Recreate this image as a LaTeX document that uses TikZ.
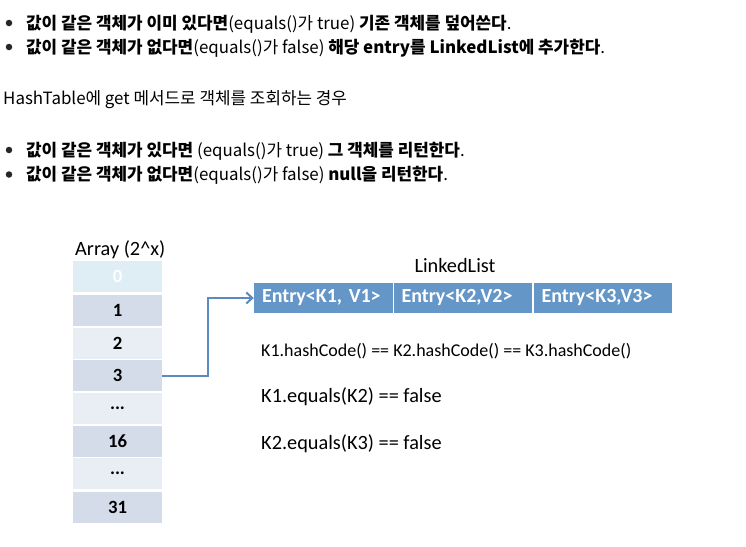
\documentclass[tikz,border=0pt]{standalone}
\usepackage{fontspec}
\setmainfont{Carlito}
\newfontfamily\kr{Noto Sans CJK KR}
\usetikzlibrary{arrows.meta}
\definecolor{headfill}{HTML}{DEEEF4}
\definecolor{darkfill}{HTML}{D5DCE9}
\definecolor{lightfill}{HTML}{E9EDF4}
\definecolor{entryfill}{HTML}{6496C8}
\definecolor{arrowc}{HTML}{5A8AC0}
\tikzset{
  topline/.style={anchor=base west, inner sep=0pt, font=\kr\fontsize{16.9}{19}\selectfont},
  bulletdot/.style={fill=black!85, circle, inner sep=0pt, minimum size=6.5pt},
  cellbox/.style={minimum width=89pt, minimum height=31pt, inner sep=0pt, font=\bfseries\fontsize{18.7}{20}\selectfont},
  cdark/.style={cellbox, fill=darkfill},
  clight/.style={cellbox, fill=lightfill},
  chead/.style={cellbox, fill=headfill, text=white},
  entrybox/.style={fill=entryfill, text=white, minimum height=30pt, inner xsep=8pt, inner ysep=0pt, text width=122.5pt, align=left, font=\bfseries\fontsize{20}{21}\selectfont},
  plain/.style={anchor=base west, inner sep=0pt, font=\fontsize{20.3}{22}\selectfont},
  small/.style={anchor=base west, inner sep=0pt, font=\fontsize{18}{19}\selectfont},
  link/.style={draw=arrowc, line width=2pt, -{Straight Barb[length=6pt,width=11pt]}}
}
\begin{document}
\begin{tikzpicture}[x=1pt,y=-1pt]
\useasboundingbox[fill=white] (0,0) rectangle (746,546);

% top text
\node[bulletdot] (b1) at (9,23) {};
\node[topline] (t1) at (26,29) {{\bfseries 값이 같은 객체가 이미 있다면}(equals()가 true) {\bfseries 기존 객체를 덮어쓴다}.};
\node[bulletdot] (b2) at (9,47) {};
\node[topline] (t2) at (26,53) {{\bfseries 값이 같은 객체가 없다면}(equals()가 false) {\bfseries 해당 entry를 LinkedList에 추가한다}.};
\node[topline] (t3) at (3,104) {HashTable에 get 메서드로 객체를 조회하는 경우};
\node[bulletdot] (b4) at (9,150) {};
\node[topline] (t4) at (26,156) {{\bfseries 값이 같은 객체가 있다면} (equals()가 true) {\bfseries 그 객체를 리턴한다}.};
\node[bulletdot] (b5) at (9,174.5) {};
\node[topline] (t5) at (26,180.5) {{\bfseries 값이 같은 객체가 없다면}(equals()가 false) {\bfseries null을 리턴한다}.};

% array
\node[plain] (arr) at (75,255) {Array (2\textasciicircum x)};
\node[chead]  (c0) at (117.5,276) {0};
\node[cdark]  (c1) at (117.5,310.5) {1};
\node[clight] (c2) at (117.5,343) {2};
\node[cdark]  (c3) at (117.5,375.5) {3};
\node[clight] (c4) at (117.5,408) {...};
\node[cdark]  (c5) at (117.5,441) {16};
\node[clight] (c6) at (117.5,473.5) {...};
\node[cdark]  (c7) at (117.5,507) {31};

% linked list
\node[anchor=base, inner sep=0pt, font=\fontsize{20.3}{22}\selectfont] (ll) at (455,272.5) {LinkedList};
\node[entrybox] (e1) at (323.25,298) {Entry<K1, V1>};
\node[entrybox] (e2) at (462.75,298) {Entry<K2,V2>};
\node[entrybox] (e3) at (602.75,298) {Entry<K3,V3>};

\node[small] (h) at (261,356.5) {K1.hashCode() == K2.hashCode() == K3.hashCode()};
\node[plain] (q1) at (261,402.5) {K1.equals(K2) == false};
\node[plain] (q2) at (261,449) {K2.equals(K3) == false};

\coordinate (bend) at (208,375.5);
\draw[link] (c3.east) -- (bend) |- (e1.west);
\end{tikzpicture}
\end{document}
